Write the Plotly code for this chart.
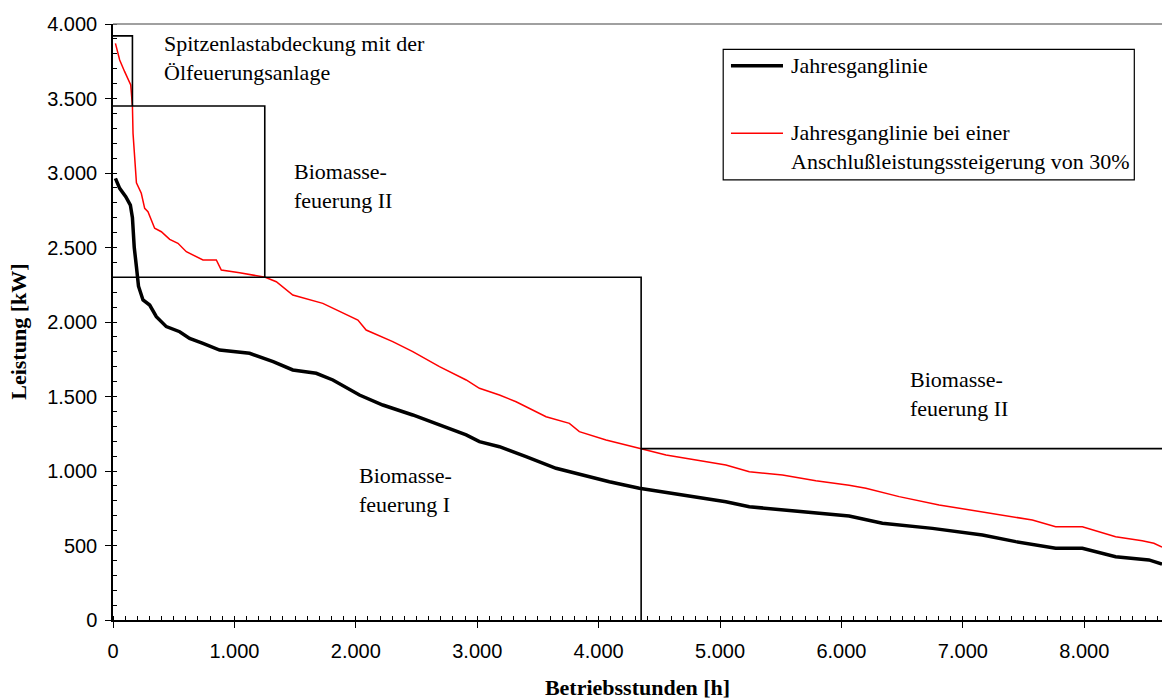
import plotly.graph_objects as go

# Annual load duration curve (hours sorted by descending load)
base_hours = [20, 55, 105, 143, 160, 175, 193, 210, 247, 302, 357, 439, 549, 631, 741,
              878, 1125, 1207, 1319, 1481, 1674, 1811, 2030, 2222, 2469, 2689, 2909,
              3018, 3183, 3402, 3649, 3868, 4088, 4335, 4582, 4856, 5048, 5241, 5514,
              5789, 6063, 6337, 6749, 7161, 7435, 7764, 7984, 8258, 8532, 8640]
base_kw = [2964, 2897, 2841, 2785, 2700, 2500, 2371, 2240, 2148, 2114, 2036, 1969, 1935,
           1890, 1857, 1812, 1790, 1767, 1734, 1678, 1656, 1611, 1510, 1443, 1376, 1309,
           1242, 1197, 1163, 1096, 1018, 973, 928, 884, 854, 823, 794, 760, 738, 716,
           698, 649, 615, 570, 526, 481, 481, 425, 403, 375]

# Load duration curve with 30 % higher connected load
plus_hours = [20, 55, 96, 146, 160, 165, 193, 233, 261, 288, 343, 398, 467, 535, 604,
              714, 741, 851, 892, 1043, 1152, 1254, 1345, 1481, 1728, 1839, 2017, 2085,
              2304, 2469, 2689, 2909, 3018, 3183, 3320, 3567, 3759, 3841, 4061, 4350,
              4555, 4802, 5048, 5241, 5514, 5789, 6063, 6201, 6475, 6804, 7161, 7572,
              7764, 7984, 8258, 8477, 8573, 8640]
plus_kw = [3870, 3758, 3680, 3591, 3450, 3266, 2935, 2864, 2763, 2740, 2629, 2606, 2555,
           2528, 2472, 2427, 2416, 2416, 2349, 2331, 2315, 2300, 2270, 2181, 2125, 2081,
           2013, 1946, 1868, 1801, 1700, 1611, 1555, 1510, 1465, 1364, 1320, 1264, 1208,
           1150, 1107, 1074, 1040, 995, 973, 935, 905, 884, 828, 772, 727, 671, 626, 626,
           559, 532, 515, 490]

# Coverage blocks of the heat generators (hours, kW)
peak_hours, peak_top = 160, 3920
bio2_hours, bio2_top = 1250, 3450
bio1_hours, bio1_top = 4350, 2300
bio2_base_level = 1150
year_end = 8640

x_ticks = [0, 1000, 2000, 3000, 4000, 5000, 6000, 7000, 8000]
y_ticks = [0, 500, 1000, 1500, 2000, 2500, 3000, 3500, 4000]

serif = "Liberation Serif"
sans = "Liberation Sans"

block_x = [0, peak_hours, peak_hours, None,
           0, bio2_hours, bio2_hours, None,
           0, bio1_hours, bio1_hours, None,
           bio1_hours, year_end]
block_y = [peak_top, peak_top, bio2_top, None,
           bio2_top, bio2_top, bio1_top, None,
           bio1_top, bio1_top, 0, None,
           bio2_base_level, bio2_base_level]

fig = go.Figure()
fig.add_trace(go.Scatter(x=base_hours, y=base_kw, mode="lines",
                         line=dict(color="black", width=3.5),
                         name="Jahresganglinie", showlegend=False))
fig.add_trace(go.Scatter(x=plus_hours, y=plus_kw, mode="lines",
                         line=dict(color="#ff0000", width=1.5),
                         name="Jahresganglinie bei einer Anschlußleistungssteigerung von 30%",
                         showlegend=False))
fig.add_trace(go.Scatter(x=block_x, y=block_y, mode="lines",
                         line=dict(color="black", width=1.6),
                         showlegend=False, hoverinfo="skip", connectgaps=False))

text_font = dict(family=serif, size=22, color="black")
labels = [
    (401, 3775, "Spitzenlastabdeckung mit der<br>Ölfeuerungsanlage"),
    (1471, 2916, "Biomasse-<br>feuerung II"),
    (2007, 872, "Biomasse-<br>feuerung I"),
    (6546, 1517, "Biomasse-<br>feuerung II"),
]
annotations = [dict(x=x, y=y, xref="x", yref="y", text=t, showarrow=False,
                    xanchor="left", yanchor="middle", align="left", font=text_font)
               for x, y, t in labels]

# Legend box drawn in paper coordinates
leg_x0, leg_x1, leg_y0, leg_y1 = 0.5817, 0.9736, 0.7383, 0.9575
sample_x0, sample_x1 = 0.5891, 0.6387
shapes = [
    dict(type="rect", xref="paper", yref="paper", x0=leg_x0, x1=leg_x1, y0=leg_y0, y1=leg_y1,
         line=dict(color="black", width=1.2), fillcolor="white", layer="above"),
    dict(type="line", xref="paper", yref="paper", x0=sample_x0, x1=sample_x1,
         y0=0.9300, y1=0.9300, line=dict(color="black", width=3.5), layer="above"),
    dict(type="line", xref="paper", yref="paper", x0=sample_x0, x1=sample_x1,
         y0=0.8166, y1=0.8166, line=dict(color="#ff0000", width=1.5), layer="above"),
    # top frame of the plot area
    dict(type="line", xref="paper", yref="paper", x0=0, x1=1, y0=1, y1=1,
         line=dict(color="#808080", width=1.5)),
]
annotations += [
    dict(x=0.6443, y=0.9300, xref="paper", yref="paper", text="Jahresganglinie",
         showarrow=False, xanchor="left", yanchor="middle", align="left", font=text_font),
    dict(x=0.6443, y=0.7928, xref="paper", yref="paper",
         text="Jahresganglinie bei einer<br>Anschlußleistungssteigerung von 30%",
         showarrow=False, xanchor="left", yanchor="middle", align="left", font=text_font),
    # vertical axis title
    dict(x=-0.0909, y=0.483, xref="paper", yref="paper", text="<b>Leistung [kW]</b>",
         textangle=-90, showarrow=False, xanchor="center", yanchor="middle",
         font=dict(family=serif, size=22, color="black")),
]

tick_font = dict(family=sans, size=20, color="black")
fig.update_layout(
    width=1162, height=700,
    margin=dict(l=113, r=0, t=24, b=80),
    paper_bgcolor="white", plot_bgcolor="white",
    separators=",.",
    shapes=shapes, annotations=annotations,
    xaxis=dict(range=[0, year_end], tickvals=x_ticks, tickformat=",d",
               showline=True, linecolor="black", linewidth=1.5,
               ticks="outside", ticklen=6, tickwidth=1.2, tickcolor="black",
               tickfont=tick_font, ticklabelstandoff=6,
               showgrid=False, zeroline=False,
               minor=dict(dtick=100, tick0=0, ticks="inside", ticklen=4,
                          tickwidth=1, tickcolor="black", showgrid=False),
               title=dict(text="<b>Betriebsstunden [h]</b>",
                          font=dict(family=serif, size=22, color="black"), standoff=21)),
    yaxis=dict(range=[0, 4000], tickvals=y_ticks, tickformat=",d",
               showline=True, linecolor="black", linewidth=1.5,
               ticks="outside", ticklen=6, tickwidth=1.2, tickcolor="black",
               tickfont=tick_font, ticklabelstandoff=4,
               showgrid=False, zeroline=False,
               minor=dict(dtick=100, tick0=0, ticks="inside", ticklen=4,
                          tickwidth=1, tickcolor="black", showgrid=False)),
    # overlay axes only supply the inner half of the major tick marks
    xaxis2=dict(range=[0, year_end], overlaying="x", anchor="y", side="bottom",
                tickvals=x_ticks, ticks="inside", ticklen=6, tickwidth=1.2,
                tickcolor="black", showticklabels=False, showline=False,
                showgrid=False, zeroline=False),
    yaxis2=dict(range=[0, 4000], overlaying="y", anchor="x", side="left",
                tickvals=y_ticks, ticks="inside", ticklen=6, tickwidth=1.2,
                tickcolor="black", showticklabels=False, showline=False,
                showgrid=False, zeroline=False),
)

fig.write_html("out.html")
